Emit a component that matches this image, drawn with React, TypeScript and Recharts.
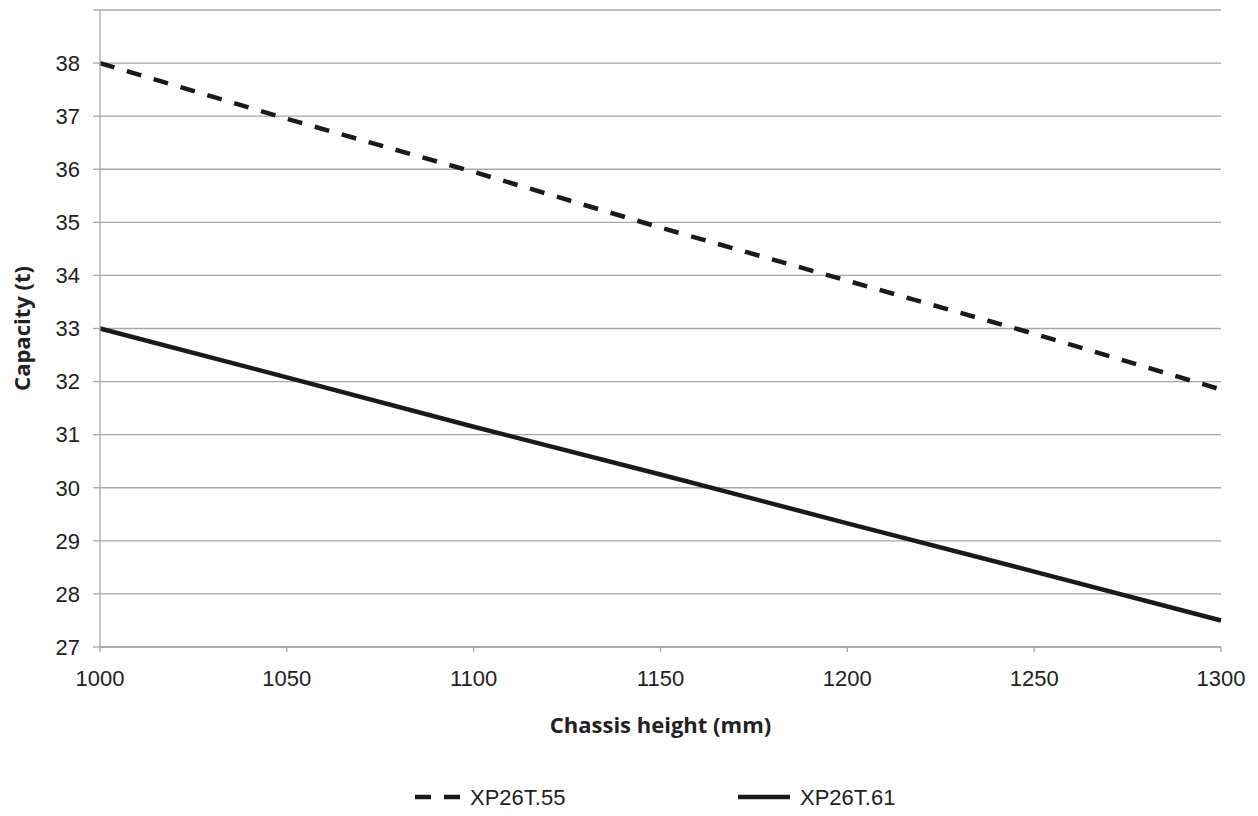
import {
  LineChart,
  Line,
  XAxis,
  YAxis,
  CartesianGrid,
  Legend,
} from "recharts";

// chassis heights (mm)
const heights = [1000, 1050, 1100, 1150, 1200, 1250, 1300];
// capacity (t)
const xp55 = [38.0, 36.95, 35.95, 34.9, 33.9, 32.9, 31.85];
const xp61 = [33.0, 32.08, 31.15, 30.25, 29.33, 28.42, 27.5];

const xTicks = [1000, 1050, 1100, 1150, 1200, 1250, 1300];
const yTicks = [27, 28, 29, 30, 31, 32, 33, 34, 35, 36, 37, 38, 39];

const seriesNames = ["XP26T.55", "XP26T.61"];

const LINE = "#1a1a1a";
const GRID = "#a6a6a6";
const TICK_FONT = "'Liberation Sans', Arial, sans-serif";
const TITLE_FONT = "'Open Sans', sans-serif";

const data = heights.map((h, i) => ({ height: h, a: xp55[i], b: xp61[i] }));

// legend drawn at fixed spots like the original
function ChartLegend() {
  const textStyle = {
    fontFamily: TICK_FONT,
    fontSize: 22,
    fill: "#222",
  };
  return (
    <svg width={1258} height={40} style={{ display: "block" }}>
      <line x1={415} y1={20} x2={460} y2={20} stroke={LINE} strokeWidth={4.5} strokeDasharray="16 13" />
      <text x={470} y={28} style={textStyle}>{seriesNames[0]}</text>
      <line x1={738} y1={20} x2={790} y2={20} stroke={LINE} strokeWidth={4.5} />
      <text x={800} y={28} style={textStyle}>{seriesNames[1]}</text>
    </svg>
  );
}

export default function App() {
  return (
    <div style={{ position: "absolute", left: 0, top: 0, background: "#fff" }}>
      <LineChart
        width={1258}
        height={816}
        data={data}
        margin={{ top: 10, right: 37, left: 0, bottom: 69 }}
      >
        <CartesianGrid vertical={false} stroke={GRID} strokeWidth={1.3} />
        <XAxis
          dataKey="height"
          type="number"
          domain={[1000, 1300]}
          ticks={xTicks}
          height={100}
          stroke={GRID}
          strokeWidth={1.3}
          tickSize={5}
          tickMargin={18}
          tick={{ fill: "#222", fontSize: 22, fontFamily: TICK_FONT }}
          label={{
            value: "Chassis height (mm)",
            position: "insideBottom",
            offset: 14,
            style: {
              fontFamily: TITLE_FONT,
              fontWeight: 700,
              fontSize: 22,
              fill: "#222",
            },
          }}
        />
        <YAxis
          type="number"
          domain={[27, 39]}
          ticks={yTicks}
          width={100}
          stroke={GRID}
          strokeWidth={1.3}
          tickSize={7}
          tickMargin={13}
          interval={0}
          tickFormatter={(v) => (v === 39 ? "" : String(v))}
          tick={{ fill: "#222", fontSize: 22, fontFamily: TICK_FONT }}
          label={{
            value: "Capacity (t)",
            angle: -90,
            position: "insideLeft",
            offset: 22,
            style: {
              textAnchor: "middle",
              fontFamily: TITLE_FONT,
              fontWeight: 700,
              fontSize: 22,
              fill: "#222",
            },
          }}
        />
        <Line
          dataKey="a"
          name={seriesNames[0]}
          stroke={LINE}
          strokeWidth={4.5}
          strokeDasharray="15 13"
          dot={false}
          isAnimationActive={false}
        />
        <Line
          dataKey="b"
          name={seriesNames[1]}
          stroke={LINE}
          strokeWidth={4.5}
          dot={false}
          isAnimationActive={false}
        />
        <Legend
          layout="horizontal"
          verticalAlign="middle"
          align="center"
          content={() => <ChartLegend />}
          wrapperStyle={{ top: 777, left: 0, width: 1258 }}
        />
      </LineChart>
    </div>
  );
}
